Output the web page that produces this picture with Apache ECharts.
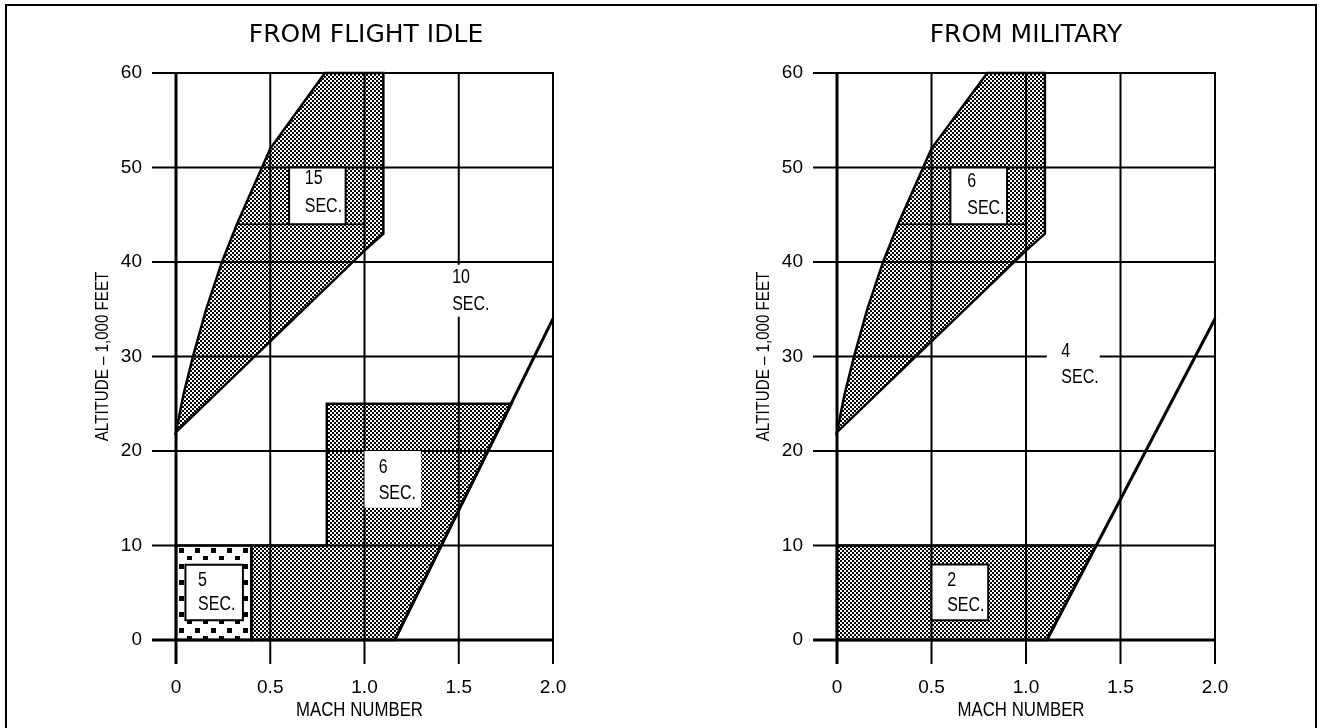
<!DOCTYPE html>
<html><head><meta charset="utf-8">
<script src="https://cdn.jsdelivr.net/npm/echarts@6.0.0/dist/echarts.min.js"></script>
<style>html,body{margin:0;padding:0;background:#fff}#c{width:1323px;height:728px}</style>
</head><body><div id="c"></div>
<script>
// ---- axes ----
const machTicks = [0, 0.5, 1.0, 1.5, 2.0];
const machTickLabels = ['0', '0.5', '1.0', '1.5', '2.0'];
const altTicks = [0, 10, 20, 30, 40, 50, 60];
const altTickLabels = ['0', '10', '20', '30', '40', '50', '60'];
const panelTitles = ['FROM FLIGHT IDLE', 'FROM MILITARY'];
const xAxisName = 'MACH NUMBER';
const yAxisName = 'ALTITUDE – 1,000 FEET';

// ---- FROM FLIGHT IDLE (Mach, altitude 1000 ft) ----
const idleUpper = [[0,22],[0.04,26],[0.09,30],[0.16,35],[0.244,40],[0.323,44],[0.456,50],[0.5,52],[0.79,60],[1.1,60],[1.1,43],[1.0,41.2]];
const idleLower = [[0.4,0],[0.4,10],[0.8,10],[0.8,25],[1.78,25],[1.16,0]];
const idleChecker = [[0,0],[0,10],[0.4,10],[0.4,0]];
const idleDiagonal = [[1.16,0],[2.0,34]];
const idleInnerLine = [[0.323,44],[1.0,44]];
// boxes: [m1, a1, m2, a2, bordered]
const idleBoxes = [[0.6,44,0.9,50,1],[1.0,14,1.3,20,0],[0.05,2.1,0.355,7.95,1],[1.44,34.2,1.66,39.7,0]];
// labels: [text, mach, alt]
const idleLabels = [['15',0.683,48.8],['SEC.',0.683,45.9],['6',1.075,18.25],['SEC.',1.075,15.5],
  ['5',0.117,6.35],['SEC.',0.117,3.76],['10',1.465,38.4],['SEC.',1.465,35.5]];

// ---- FROM MILITARY ----
const milUpper = [[0,22],[0.04,26],[0.09,30],[0.16,35],[0.244,40],[0.323,44],[0.456,50],[0.5,52],[0.795,60],[1.1,60],[1.1,43],[1.0,41.2]];
const milLower = [[0,0],[0,10],[1.37,10],[1.11,0]];
const milDiagonal = [[1.11,0],[2.0,34]];
const milInnerLine = [[0.323,44],[1.0,44]];
const milBoxes = [[0.6,44,0.9,50,1],[0.5,2.1,0.8,8,1],[1.11,26.5,1.39,31,0]];
const milLabels = [['6',0.689,48.5],['SEC.',0.689,45.66],['2',0.583,6.35],['SEC.',0.583,3.7],['4',1.187,30.5],['SEC.',1.187,27.8]];

function makePattern(size, draw) {
  const c = document.createElement('canvas');
  c.width = size; c.height = size;
  const ctx = c.getContext('2d');
  ctx.fillStyle = '#fff'; ctx.fillRect(0, 0, size, size);
  ctx.fillStyle = '#000'; draw(ctx);
  return { image: c, repeat: 'repeat' };
}
const dots = makePattern(4, ctx => { ctx.fillRect(0,0,2,2); ctx.fillRect(2,2,2,2); });
const checker = makePattern(16, ctx => { ctx.fillRect(3,4,5,5); ctx.fillRect(11,12,5,5); });

const panels = [
  { fills: [[idleUpper, dots],[idleLower, dots],[idleChecker, checker]],
    outlines: [idleUpper, idleLower, idleChecker],
    lines: [[idleDiagonal, 3],[idleInnerLine, 1.5]],
    boxes: idleBoxes, labels: idleLabels },
  { fills: [[milUpper, dots],[milLower, dots]],
    outlines: [milUpper, milLower],
    lines: [[milDiagonal, 3],[milInnerLine, 1.5]],
    boxes: milBoxes, labels: milLabels }
];

const labelFont = '20px "Liberation Sans"';

function seriesFor(p, gi) {
  const base = { type: 'custom', coordinateSystem: 'cartesian2d', xAxisIndex: gi, yAxisIndex: gi, silent: true, animation: false, data: [[0,0]] };
  const pts = (api, arr) => arr.map(q => api.coord(q));
  return [
    Object.assign({}, base, { z: 1, renderItem: (params, api) => ({ type: 'group', children:
      p.fills.map(f => ({ type: 'polygon', shape: { points: pts(api, f[0]) }, style: { fill: f[1], stroke: null } })) }) }),
    Object.assign({}, base, { z: 2, renderItem: (params, api) => {
      const ch = []; const ext = 24;
      machTicks.forEach(m => {
        const a = api.coord([m, 60]), b = api.coord([m, 0]);
        ch.push({ type: 'line', shape: { x1: a[0], y1: a[1] - 1, x2: b[0], y2: b[1] + ext }, style: { stroke: '#000', lineWidth: m === 0 ? 3 : 2 } });
      });
      altTicks.forEach(v => {
        const a = api.coord([0, v]), b = api.coord([2, v]);
        ch.push({ type: 'line', shape: { x1: a[0] - ext, y1: a[1], x2: b[0] + 1, y2: b[1] }, style: { stroke: '#000', lineWidth: v === 0 ? 3 : 2 } });
      });
      // axis names, centred on the plot area
      const c0 = api.coord([1, 0]), c1 = api.coord([0, 30]);
      ch.push({ type: 'text', x: c0[0] - 5, y: c0[1] + 70, scaleX: 0.84, style: { text: xAxisName, fill: '#000', font: '20px "Liberation Sans"', align: 'center', verticalAlign: 'middle' } });
      ch.push({ type: 'text', x: c1[0] - 73, y: c1[1], rotation: Math.PI / 2, scaleX: 0.84, style: { text: yAxisName, fill: '#000', font: '18px "Liberation Sans"', align: 'center', verticalAlign: 'middle' } });
      return { type: 'group', children: ch };
    } }),
    Object.assign({}, base, { z: 3, renderItem: (params, api) => {
      const ch = [];
      p.outlines.forEach(o => ch.push({ type: 'polygon', shape: { points: pts(api, o) }, style: { fill: null, stroke: '#000', lineWidth: 2.5, lineJoin: 'miter' } }));
      p.lines.forEach(l => ch.push({ type: 'polyline', shape: { points: pts(api, l[0]) }, style: { fill: null, stroke: '#000', lineWidth: l[1] } }));
      return { type: 'group', children: ch };
    } }),
    Object.assign({}, base, { z: 4, renderItem: (params, api) => {
      const ch = [];
      p.boxes.forEach(b => {
        const a = api.coord([b[0], b[3]]), c = api.coord([b[2], b[1]]);
        ch.push({ type: 'rect', shape: { x: a[0], y: a[1], width: c[0] - a[0], height: c[1] - a[1] },
          style: { fill: '#fff', stroke: b[4] ? '#000' : null, lineWidth: 2 } });
      });
      p.labels.forEach(l => {
        const q = api.coord([l[1], l[2]]);
        ch.push({ type: 'text', x: q[0], y: q[1], scaleX: 0.8, style: { text: l[0], fill: '#000', font: labelFont, align: 'left', verticalAlign: 'middle' } });
      });
      return { type: 'group', children: ch };
    } })
  ];
}

const grids = [{ left: 176, top: 73, width: 377, height: 567 }, { left: 837, top: 73, width: 378, height: 567 }];
const tickFont = { fontFamily: 'Liberation Sans', fontSize: 19, color: '#000' };
const xAxes = grids.map((g, i) => ({
  type: 'value', gridIndex: i, min: 0, max: 2, interval: 0.5,
  axisLine: { show: false }, axisTick: { show: false }, splitLine: { show: false },
  axisLabel: Object.assign({ margin: 38, formatter: v => machTickLabels[machTicks.findIndex(t => Math.abs(t - v) < 1e-9)] }, tickFont)
}));
const yAxes = grids.map((g, i) => ({
  type: 'value', gridIndex: i, min: 0, max: 60, interval: 10,
  axisLine: { show: false }, axisTick: { show: false }, splitLine: { show: false },
  axisLabel: Object.assign({ margin: 34, formatter: v => altTickLabels[altTicks.indexOf(v)] }, tickFont)
}));

const chart = echarts.init(document.getElementById('c'), null, { renderer: 'canvas' });
chart.setOption({
  backgroundColor: '#fff',
  animation: false,
  grid: grids,
  xAxis: xAxes,
  yAxis: yAxes,
  graphic: [
    { type: 'rect', shape: { x: 6, y: 5, width: 1310, height: 780 }, style: { fill: null, stroke: '#000', lineWidth: 2 }, silent: true },
    { type: 'text', x: 366, y: 35, style: { text: panelTitles[0], font: '25px "DejaVu Sans"', fill: '#000', align: 'center', verticalAlign: 'middle' } },
    { type: 'text', x: 1026, y: 35, style: { text: panelTitles[1], font: '25px "DejaVu Sans"', fill: '#000', align: 'center', verticalAlign: 'middle' } }
  ],
  series: [].concat(seriesFor(panels[0], 0), seriesFor(panels[1], 1))
});
</script></body></html>
